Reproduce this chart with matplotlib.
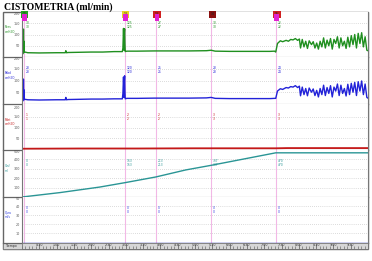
# Cistometria chart: five stacked channels with event lines and a time ruler
import matplotlib
matplotlib.use("Agg")
import matplotlib.pyplot as plt
from matplotlib.patches import Rectangle
from matplotlib.lines import Line2D

# --- data (time in seconds) ---
pves_t = [0, 2, 2.5, 3, 3.5, 4, 5, 10, 30, 60, 75, 76, 77, 80, 100, 120, 140, 160, 174, 175, 176,
          177, 177.5, 178, 178.5, 179, 180, 182, 200, 230, 260, 290, 320, 328, 335, 360, 400, 430, 438,
          440, 443, 448, 452, 458, 462, 466, 470, 474, 478, 481, 483, 486, 489, 492, 495, 498, 502,
          505, 508, 511, 514, 517, 520, 523, 526, 529, 532, 535, 538, 541, 544, 547, 550, 553, 556,
          559, 562, 565, 568, 571, 574, 577, 580, 583, 586, 589, 592, 595, 598, 600]
pves = [15, 15, 124, 30, 70, 20, 22, 19, 18, 19, 19, 28, 19, 20, 21, 22, 22, 24, 24, 40, 127,
        30, 110, 125, 60, 24, 25, 26, 26, 27, 27, 27, 28, 30, 26, 25, 25, 25, 26,
        22, 60, 72, 68, 74, 70, 78, 76, 82, 74, 80, 40, 78, 45, 70, 38, 72, 55,
        68, 40, 62, 35, 70, 45, 85, 40, 75, 50, 82, 35, 78, 60, 90, 40, 85, 50,
        70, 38, 88, 45, 95, 55, 100, 40, 105, 60, 108, 45, 90, 30, 28]
pabd = [14, 14, 106, 28, 60, 18, 20, 18, 17, 18, 18, 28, 18, 19, 20, 21, 21, 22, 22, 45, 115,
        28, 100, 120, 55, 22, 23, 24, 24, 25, 25, 25, 26, 28, 24, 23, 23, 23, 24,
        24, 55, 65, 62, 70, 68, 74, 72, 78, 70, 76, 35, 72, 40, 66, 35, 68, 50,
        64, 36, 58, 30, 66, 40, 80, 36, 70, 45, 78, 30, 72, 55, 85, 36, 80, 45,
        66, 34, 84, 40, 88, 50, 92, 36, 95, 55, 98, 40, 85, 28, 25]

pdet_t = [0, 100, 200, 300, 440, 460, 600]
pdet = [1, 2, 2, 3, 3, 4, 4]

vinf_t = [0, 66, 135, 179, 232, 284, 328, 440, 600]
vinf = [0, 47, 106, 153, 213, 288, 337, 470, 470]

qura_t = [0, 600]
qura = [0, 0]

event_t = [3, 178, 232, 328, 440]
event_top = ["#20a020", "#e8d020", "#d02020", "#8a1010", "#d02020"]
event_bottom = ["#e020d0", "#e020d0", "#e020d0", None, "#e020d0"]
event_num = ["11", "12", "13", "14", "15"]

channels = ["Pves\ncmH2O", "Pabd\ncmH2O", "Pdet\ncmH2O", "Vinf\nml", "Qura\nml/s"]
colors = ["#1f8f1f", "#2222d8", "#c41818", "#2a9595", "#2a3adf"]
ylims = [(0, 200), (0, 200), (-5, 210), (0, 500), (0, 50)]
yticks = [[0, 50, 100, 150, 200], [0, 50, 100, 150, 200], [0, 50, 100, 150, 200],
          [0, 100, 200, 300, 400, 500], [0, 10, 20, 30, 40, 50]]
time_ticks = list(range(30, 600, 30))
time_labels = ["%d:%02d" % (s // 60, s % 60) for s in time_ticks]

W, H = 372, 261
fig = plt.figure(figsize=(W / 100, H / 100), dpi=100)

# title
fig.text(4 / W, 1 - 10 / H, "CISTOMETRIA (ml/min)", fontsize=7, fontweight="bold",
         family="Liberation Serif", ha="left", va="baseline")

# panel edges in pixels (top, bottom)
edges = [(12, 57), (57, 104), (104, 150), (150, 197), (197, 242.5)]
x0, x1 = 22, 368

series = [(pves_t, pves), (pves_t, pabd), (pdet_t, pdet), (vinf_t, vinf), (qura_t, qura)]
axes = []
for i, (top, bot) in enumerate(edges):
    ax = fig.add_axes([x0 / W, 1 - bot / H, (x1 - x0) / W, (bot - top) / H])
    t, v = series[i]
    ax.plot(t, v, color=colors[i], lw=1.0 if i != 2 else 1.3)
    ax.set_xlim(0, 600)
    ax.set_ylim(*ylims[i])
    ax.set_yticks(yticks[i])
    labels = [str(y) for y in yticks[i]]
    labels[0] = ""
    ax.set_yticklabels(labels, fontsize=2.4, color="#555555")
    ax.get_yticklabels()[-1].set_va("top")
    ax.tick_params(axis="y", length=0, pad=1.5)
    ax.set_xticks([])
    for y in yticks[i][1:-1]:
        ax.axhline(y, color="#bbbbbb", lw=0.5, ls=(0, (1, 2)), zorder=0)
    for et in event_t:
        ax.axvline(et, color="#f2b8e6", lw=0.8, zorder=0)
        val = v[min(range(len(t)), key=lambda k: abs(t[k] - et))]
        ax.text(et + 3, ylims[i][1] * 0.72, "%d\n%d" % (val, val), fontsize=2.2,
                color=colors[i], va="center", ha="left", linespacing=1.0)
    for s in ax.spines.values():
        s.set_color("#777777")
        s.set_linewidth(0.8)
    ax.spines["top"].set_visible(False)
    axes.append(ax)

# event markers above the first panel
ax = axes[0]
for et, ct, cb, n in zip(event_t, event_top, event_bottom, event_num):
    ax.text(et + 2, 199, n, fontsize=2.3, color="#222222", ha="center", va="top",
            bbox=dict(boxstyle="square,pad=0.5", fc=ct, ec="none"), clip_on=False)
    if cb:
        ax.text(et + 2, 186, "  ", fontsize=2.3, ha="center", va="top",
                bbox=dict(boxstyle="square,pad=0.45", fc=cb, ec="none"), clip_on=False)

# time ruler
rax = fig.add_axes([x0 / W, 1 - 249 / H, (x1 - x0) / W, 6.5 / H])
rax.set_facecolor("#d6d6d6")
rax.set_xlim(0, 600)
rax.set_ylim(0, 1)
rax.set_yticks([])
rax.set_xticks(time_ticks)
rax.set_xticklabels(time_labels, fontsize=2.3, color="#333333")
rax.set_xticks(range(0, 600, 6), minor=True)
rax.tick_params(axis="x", which="major", direction="in", length=3.5, width=0.5,
                pad=-4.5, color="#555555")
rax.tick_params(axis="x", which="minor", direction="in", length=2, width=0.4, color="#555555")
for s in rax.spines.values():
    s.set_color("#777777")
    s.set_linewidth(0.6)

# left label column and outer frame
bax = fig.add_axes([0, 0, 1, 1], zorder=-1)
bax.set_xlim(0, W)
bax.set_ylim(H, 0)
bax.axis("off")
bax.add_patch(Rectangle((3, 12), x1 - 3, 237, fill=False, ec="#666666", lw=1.0))
for i, (top, bot) in enumerate(edges):
    bax.add_line(Line2D([3, x1], [bot, bot], color="#666666", lw=0.9))
    bax.text(4.5, (top + bot) / 2 - 5, channels[i], fontsize=2.1, color=colors[i],
             ha="left", va="center", linespacing=1.2)
bax.add_patch(Rectangle((3, 242.5), x0 - 3, 6.5, fc="#d6d6d6", ec="#777777", lw=0.5))
bax.text(12, 246, "Tiempo", fontsize=2.3, color="#333333", ha="center", va="center")
bax.add_line(Line2D([x0, x0], [12, 242.5], color="#999999", lw=0.6))

fig.savefig("out.png", dpi=100)
